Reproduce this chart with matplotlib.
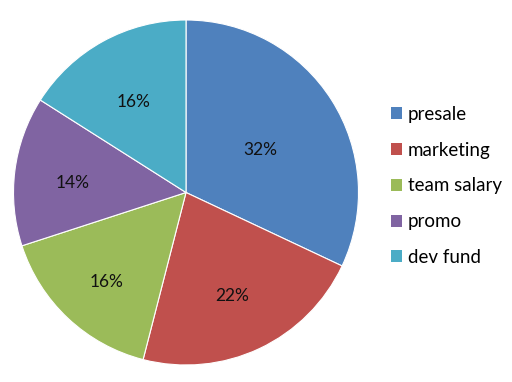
import numpy as np
import matplotlib.pyplot as plt
from matplotlib.patches import Patch

labels = ["presale", "marketing", "team salary", "promo", "dev fund"]
shares = [32, 22, 16, 14, 16]
colors = ["#4F81BD", "#C0504D", "#9BBB59", "#8064A2", "#4BACC6"]
# radial position of each percentage label, as a fraction of the radius
label_pos = [0.51, 0.63, 0.67, 0.66, 0.63]

W, H = 512, 382
cx, cy, r = 186, 192.5, 172.5  # pie centre/radius in pixels (from top-left)

plt.rcParams["font.family"] = ["Lato", "DejaVu Sans"]

fig = plt.figure(figsize=(W / 100, H / 100), dpi=100)
ax = fig.add_axes([(cx - r) / W, (H - cy - r) / H, 2 * r / W, 2 * r / H])

wedges, _ = ax.pie(shares, colors=colors, startangle=90, counterclock=False,
                   wedgeprops=dict(edgecolor="white", linewidth=0.8))
ax.set_xlim(-1, 1)
ax.set_ylim(-1, 1)
ax.set_aspect("equal")

for w, v, d in zip(wedges, shares, label_pos):
    ang = np.deg2rad((w.theta1 + w.theta2) / 2)
    ax.annotate(f"{v}%", (d * np.cos(ang), d * np.sin(ang)),
                xytext=(0, -5), textcoords="offset pixels",
                ha="center", va="center", fontsize=12.5, color="#111111")

handles = [Patch(facecolor=c, edgecolor="none") for c in colors]
fig.legend(handles, labels, loc="center left", bbox_to_anchor=(374 / W, 1 - 186 / H),
           frameon=False, fontsize=13.5, handlelength=0.6, handleheight=0.6,
           handletextpad=0.3, labelspacing=1.0)

fig.savefig("out.png", dpi=100)
